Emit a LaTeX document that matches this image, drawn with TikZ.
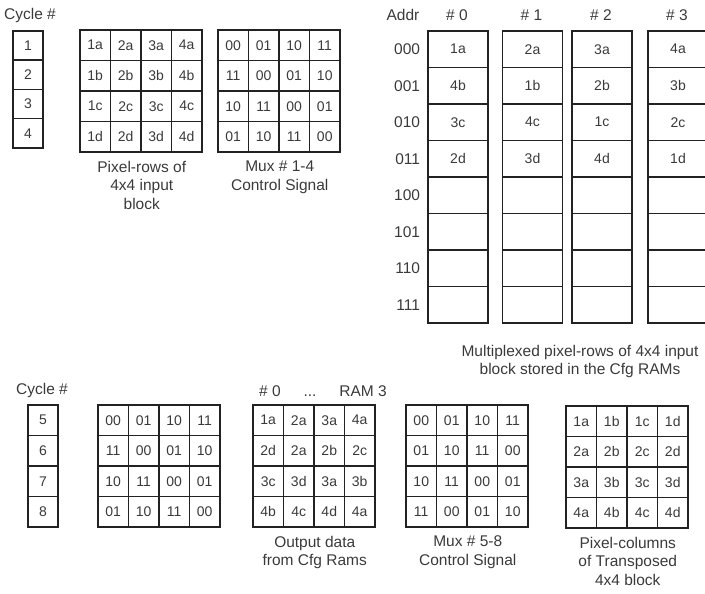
\documentclass[tikz,border=0pt]{standalone}
\usepackage{fontspec}
\setmainfont{Liberation Sans}
\usetikzlibrary{positioning}
\definecolor{ink}{HTML}{222222}
\definecolor{txt}{HTML}{3A3A3A}
\tikzset{
  cell/.style={rectangle, draw=ink, line width=1.5pt, inner sep=0pt,
               font=\fontsize{14}{16}\selectfont, text=txt},
  sqcell/.style={cell, minimum width=30.5pt, minimum height=30.5pt},
  cyccell/.style={cell, minimum width=30pt, minimum height=29.25pt},
  ramcell/.style={cell, minimum width=60pt, minimum height=36.5pt},
  lbl/.style={font=\fontsize{15.5}{18.5}\selectfont, text=txt, inner sep=0pt},
  captxt/.style={lbl, align=center, anchor=north},
}
% 4x4 grid of cells: name, left x, top y, entries row by row
\newcommand{\cellgrid}[4]{%
  \foreach \t [count=\i from 0] in {#4} {
    \pgfmathtruncatemacro{\gcol}{mod(\i,4)}
    \pgfmathtruncatemacro{\grow}{\i/4}
    \node[sqcell] (#1-\grow-\gcol) at ({#2+30.5*(\gcol+0.5)},{#3+30.5*(\grow+0.5)}) {\t};
  }}

\begin{document}
\begin{tikzpicture}[x=1pt,y=-1pt]
  \path[use as bounding box, clip] (0,0) rectangle (705,594);

  % top: cycles 1-4
  \node[lbl] (cyctitle) at (30,15) {Cycle \#};
  \foreach \v [count=\j from 0] in {1,2,3,4}
    \node[cyccell] (cyc\j) at (28,{31+29.25*(\j+0.5)}) {\v};

  \cellgrid{pr}{80}{30}{1a,2a,3a,4a,1b,2b,3b,4b,1c,2c,3c,4c,1d,2d,3d,4d}
  \node[captxt, below=8pt of pr-3-1.south east] (prcap) {Pixel-rows of\\4x4 input\\block};

  \cellgrid{mx}{218}{30}{00,01,10,11,11,00,01,10,10,11,00,01,01,10,11,00}
  \node[captxt, below=8pt of mx-3-1.south east] (mxcap) {Mux \# 1-4\\Control Signal};

  % top right: Cfg RAMs
  \node[lbl] (addrtitle) at (403,15) {Addr};
  \foreach \x/\vals [count=\k from 0] in {458/{1a,4b,3c,2d},532.5/{2a,1b,4c,3d},602/{3a,2b,1c,4d},678/{4a,3b,2c,1d}} {
    \node[lbl] (ramtitle\k) at (\x-1,15) {\# \k};
    \foreach \v [count=\j from 0] in \vals
      \node[ramcell] (ram\k-\j) at (\x,{31+36.5*(\j+0.5)}) {\v};
    \foreach \j in {4,...,7}
      \node[ramcell] (ram\k-\j) at (\x,{31+36.5*(\j+0.5)}) {};
  }
  \foreach \a [count=\j from 0] in {000,001,010,011,100,101,110,111}
    \node[lbl, left=7pt of ram0-\j] (addr\j) {\a};
  \node[captxt] (ramcap) at (580,345) {Multiplexed pixel-rows of 4x4 input\\block stored in the Cfg RAMs};

  % bottom: cycles 5-8
  \node[lbl] (cyctitle2) at (42,390) {Cycle \#};
  \foreach \v [count=\j from 0] in {5,6,7,8}
    \node[sqcell, minimum width=30pt] (cycb\j) at (43,{405+30.5*(\j+0.5)}) {\v};

  \cellgrid{mb}{98}{405}{00,01,10,11,11,00,01,10,10,11,00,01,01,10,11,00}

  \node[lbl, anchor=base] (outt0) at (270,396) {\# 0};
  \node[lbl, anchor=base] (outdots) at (310,396) {...};
  \node[lbl, anchor=base] (outt3) at (363,396) {RAM 3};
  \cellgrid{out}{253}{405}{1a,2a,3a,4a,2d,2a,2b,2c,3c,3d,3a,3b,4b,4c,4d,4a}
  \node[captxt, below=8pt of out-3-1.south east] (outcap) {Output data\\from Cfg Rams};

  \cellgrid{my}{406}{405}{00,01,10,11,01,10,11,00,10,11,00,01,11,00,01,10}
  \node[captxt, below=8pt of my-3-1.south east] (mycap) {Mux \# 5-8\\Control Signal};

  \cellgrid{tr}{566}{406}{1a,1b,1c,1d,2a,2b,2c,2d,3a,3b,3c,3d,4a,4b,4c,4d}
  \node[captxt, below=8pt of tr-3-1.south east] (trcap) {Pixel-columns\\of Transposed\\4x4 block};
\end{tikzpicture}
\end{document}
